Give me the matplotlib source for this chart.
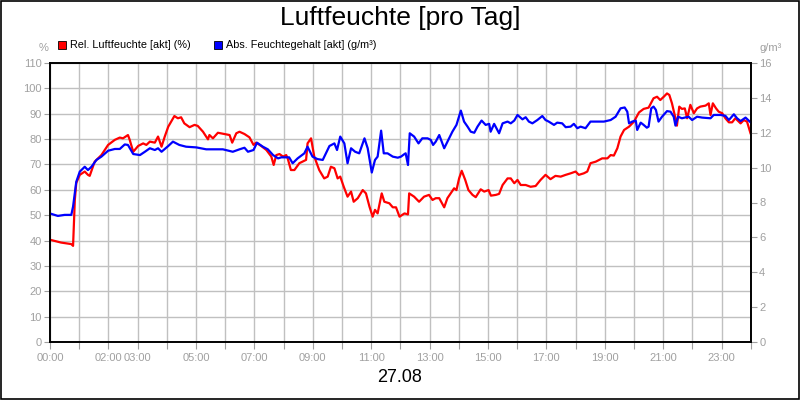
import matplotlib
matplotlib.use("Agg")
import matplotlib.pyplot as plt
from matplotlib.patches import Rectangle

plt.rcParams['font.family'] = ['Liberation Sans', 'DejaVu Sans']

# relative humidity (%), time in hours of the day
rel_hours = [0.04, 0.38, 0.73, 0.79, 0.85, 0.90, 1.02, 1.19, 1.30, 1.36, 1.53, 1.76, 1.99, 2.22,
             2.39, 2.50, 2.67, 2.73, 2.85, 3.02, 3.19, 3.30, 3.42, 3.59, 3.70, 3.82, 3.93, 4.05,
             4.15, 4.26, 4.38, 4.49, 4.60, 4.78, 4.95, 5.06, 5.24, 5.41, 5.46, 5.58, 5.75, 5.98,
             6.15, 6.24, 6.38, 6.49, 6.66, 6.83, 6.97, 7.06, 7.23, 7.41, 7.58, 7.66, 7.75, 7.86,
             7.98, 8.09, 8.14, 8.25, 8.37, 8.54, 8.65, 8.77, 8.82, 8.94, 9.05, 9.22, 9.39, 9.51,
             9.62, 9.74, 9.85, 9.94, 10.06, 10.19, 10.31, 10.40, 10.54, 10.71, 10.82, 10.94,
             11.05, 11.13, 11.22, 11.36, 11.45, 11.62, 11.74, 11.85, 11.97, 12.14, 12.26, 12.30,
             12.47, 12.64, 12.81, 12.98, 13.10, 13.21, 13.33, 13.50, 13.61, 13.72, 13.84, 13.92,
             14.01, 14.10, 14.22, 14.33, 14.47, 14.58, 14.75, 14.87, 15.02, 15.10, 15.27, 15.38,
             15.50, 15.67, 15.78, 15.90, 16.01, 16.12, 16.29, 16.46, 16.63, 16.80, 16.97, 17.14,
             17.31, 17.49, 17.66, 17.83, 18.00, 18.11, 18.28, 18.40, 18.51, 18.69, 18.91, 19.09,
             19.20, 19.31, 19.43, 19.54, 19.66, 19.83, 20.00, 20.17, 20.33, 20.50, 20.67, 20.79,
             20.90, 21.02, 21.13, 21.21, 21.30, 21.42, 21.47, 21.55, 21.64, 21.74, 21.82, 21.93,
             22.05, 22.16, 22.27, 22.45, 22.56, 22.62, 22.70, 22.81, 22.90, 23.02, 23.13, 23.25,
             23.36, 23.47, 23.65, 23.76, 23.87, 23.99]
rel_values = [40.2, 39.2, 38.6, 37.9, 56.0, 62.7, 65.9, 67.2, 65.9, 65.5, 71.1, 73.7, 77.7, 79.7,
              80.6, 80.3, 81.6, 79.7, 75.0, 77.3, 78.3, 77.7, 79.0, 78.6, 81.0, 77.0, 81.0, 84.9,
              86.9, 89.1, 88.2, 88.6, 86.2, 84.7, 85.6, 85.2, 82.9, 79.9, 81.6, 80.3, 82.5, 82.0,
              81.6, 78.6, 82.3, 82.9, 82.0, 80.7, 77.7, 78.6, 77.3, 75.7, 73.1, 69.8, 73.7, 74.1,
              73.1, 73.7, 72.4, 67.8, 67.8, 70.5, 71.1, 71.8, 78.3, 80.3, 73.1, 67.8, 64.5, 65.2,
              69.1, 68.5, 64.5, 65.2, 61.2, 57.3, 59.3, 55.3, 56.7, 59.9, 58.6, 53.4,
              49.4, 52.1, 50.7, 58.6, 55.3, 54.7, 53.1, 53.1, 49.4, 50.7, 50.3, 58.6,
              57.3, 55.3, 57.3, 58.0, 56.0, 56.7, 56.7, 53.1, 56.7, 58.6, 60.6, 59.9,
              64.5, 67.5, 63.9, 59.9, 58.0, 57.1, 60.2, 59.3, 59.9, 57.7, 58.0, 58.4,
              61.9, 64.5, 64.5, 62.6, 63.9, 61.9, 61.9, 61.2, 61.5, 63.9, 65.9, 64.2,
              65.5, 65.2, 65.9, 66.5, 67.2, 65.9, 66.5, 67.2, 70.5, 71.1, 72.4, 72.4,
              73.7, 73.5, 76.4, 81.0, 83.6, 84.9, 86.9, 90.5, 91.9, 92.4, 96.1, 96.7,
              95.4, 96.7, 98.0, 97.4, 94.1, 88.2, 85.3, 92.8, 91.9, 92.1, 88.2, 93.5,
              90.2, 92.1, 92.8, 93.2, 94.1, 89.5, 94.1, 92.1, 90.8, 90.2, 88.2, 86.6,
              86.6, 88.2, 86.2, 87.5, 86.9, 82.3]

# absolute moisture content (g/m3)
abs_hours = [0.04, 0.27, 0.50, 0.73, 0.79, 0.90, 1.02, 1.19, 1.30, 1.42, 1.59, 1.76, 1.99, 2.22,
             2.39, 2.56, 2.67, 2.85, 3.08, 3.25, 3.42, 3.59, 3.70, 3.82, 4.05, 4.21, 4.43, 4.66,
             5.01, 5.35, 5.58, 5.92, 6.26, 6.49, 6.66, 6.78, 6.97, 7.09, 7.29, 7.46, 7.64, 7.81,
             7.92, 8.09, 8.19, 8.31, 8.48, 8.71, 8.82, 8.99, 9.16, 9.34, 9.45, 9.57, 9.74, 9.83,
             9.94, 10.08, 10.19, 10.31, 10.45, 10.59, 10.77, 10.88, 11.02, 11.13, 11.22, 11.34,
             11.43, 11.56, 11.74, 11.91, 12.02, 12.14, 12.18, 12.26, 12.32, 12.47, 12.62, 12.75,
             12.93, 13.04, 13.12, 13.21, 13.33, 13.50, 13.67, 13.78, 13.92, 13.99, 14.07, 14.18,
             14.30, 14.41, 14.53, 14.64, 14.78, 14.92, 15.04, 15.09, 15.21, 15.38, 15.50, 15.67,
             15.78, 15.90, 16.01, 16.18, 16.29, 16.40, 16.52, 16.69, 16.86, 16.97, 17.08, 17.26,
             17.37, 17.54, 17.66, 17.83, 17.94, 18.06, 18.17, 18.34, 18.51, 18.74, 18.97, 19.20,
             19.37, 19.54, 19.68, 19.77, 19.83, 19.94, 20.06, 20.11, 20.23, 20.33, 20.44, 20.50,
             20.59, 20.67, 20.75, 20.84, 20.96, 21.13, 21.25, 21.36, 21.42, 21.51, 21.64, 21.87,
             21.99, 22.16, 22.33, 22.62, 22.73, 22.96, 23.13, 23.25, 23.42, 23.53, 23.65, 23.82,
             23.99]
abs_values = [7.35, 7.23, 7.29, 7.29, 7.77, 9.19, 9.77, 10.05, 9.86, 10.05, 10.44, 10.63, 10.97, 11.07,
              11.07, 11.33, 11.30, 10.78, 10.72, 10.91, 11.11, 11.01, 11.11, 10.91, 11.24, 11.49, 11.30, 11.20,
              11.16, 11.05, 11.05, 11.05, 10.91, 11.05, 11.14, 10.91, 11.01, 11.43, 11.20, 11.05, 10.72, 10.53,
              10.59, 10.59, 10.59, 10.25, 10.53, 10.82, 11.20, 10.63, 10.49, 10.44, 10.82, 11.24, 11.39, 11.01,
              11.78, 11.39, 10.25, 11.11, 10.91, 10.82, 11.68, 11.11, 9.72, 10.44, 10.63, 12.12,
              10.82, 10.82, 10.63, 10.57, 10.63, 10.78, 10.82, 10.15, 11.97, 11.78, 11.39, 11.68,
              11.68, 11.59, 11.30, 11.49, 11.87, 11.11, 11.68, 12.06, 12.45, 12.83, 13.27, 12.64,
              12.35, 12.06, 12.00, 12.35, 12.70, 12.45, 12.51, 12.06, 12.51, 11.97, 12.54, 12.64,
              12.54, 12.70, 13.02, 12.77, 12.89, 12.64, 12.54, 12.73, 12.96, 12.73, 12.64, 12.45,
              12.58, 12.54, 12.32, 12.35, 12.51, 12.26, 12.35, 12.26, 12.64, 12.64, 12.64, 12.73,
              12.92, 13.40, 13.45, 13.21, 12.54, 12.64, 12.70, 12.16, 12.58, 12.45, 12.29, 12.35,
              13.40, 13.50, 13.31, 12.64, 12.92, 13.24, 13.21, 12.92, 12.41, 12.92, 12.83, 12.92,
              12.73, 12.92, 12.87, 12.83, 13.02, 13.02, 12.97, 12.73, 13.06, 12.83, 12.67, 12.87,
              12.60]

xtick_pos = [0, 2, 3, 5, 7, 9, 11, 13, 15, 17, 19, 21, 23]
xtick_labels = ['00:00', '02:00', '03:00', '05:00', '07:00', '09:00', '11:00',
                '13:00', '15:00', '17:00', '19:00', '21:00', '23:00']

gray = '#a0a0a0'
grid_gray = '#c0c0c0'

fig = plt.figure(figsize=(8, 4), dpi=100)
fig.patches.append(Rectangle((0.0015, 0.003), 0.997, 0.994, transform=fig.transFigure,
                             fill=False, edgecolor='black', linewidth=1.2))

ax = fig.add_axes([0.0625, 0.145, 0.876, 0.6975])
ax2 = ax.twinx()

ax.plot(rel_hours, rel_values, color='#ff0000', linewidth=1.6)
ax2.plot(abs_hours, abs_values, color='#0000ff', linewidth=1.6)

ax.set_xlim(0, 24)
ax.set_ylim(0, 110)
ax2.set_ylim(0, 16)

# one tick per hour, labels only at some of them
hour_ticks = list(range(25))
hour_labels = [xtick_labels[xtick_pos.index(h)] if h in xtick_pos else '' for h in hour_ticks]
ax.set_xticks(hour_ticks)
ax.set_xticklabels(hour_labels)
ax.tick_params(axis='x', length=5, color=gray, labelcolor=gray, labelsize=8, pad=3)

ax.set_yticks(range(0, 111, 10))
ax.tick_params(axis='y', length=4, color=gray, labelcolor=gray, labelsize=8, pad=2)
ax2.set_yticks(range(0, 17, 2))
ax2.tick_params(axis='y', length=4, color=gray, labelcolor=gray, labelsize=8, pad=2)

ax.grid(True, color=grid_gray, linewidth=1)
ax.set_axisbelow(True)
for sp in list(ax.spines.values()) + list(ax2.spines.values()):
    sp.set_color('black')
    sp.set_linewidth(1.2)

fig.text(0.5, 0.955, 'Luftfeuchte [pro Tag]', ha='center', va='center', fontsize=19)
fig.text(0.5, 0.055, '27.08', ha='center', va='center', fontsize=13)
fig.text(0.054, 0.88, '%', ha='center', va='center', fontsize=8, color=gray)
fig.text(0.963, 0.88, 'g/m³', ha='center', va='center', fontsize=8, color=gray)

# legend
fig.patches.append(Rectangle((0.0725, 0.878), 0.01, 0.02, transform=fig.transFigure,
                             facecolor='#ff0000', edgecolor='black', linewidth=0.6))
fig.text(0.087, 0.888, 'Rel. Luftfeuchte [akt] (%)', ha='left', va='center', fontsize=7.8)
fig.patches.append(Rectangle((0.2675, 0.878), 0.01, 0.02, transform=fig.transFigure,
                             facecolor='#0000ff', edgecolor='black', linewidth=0.6))
fig.text(0.282, 0.888, 'Abs. Feuchtegehalt [akt] (g/m³)', ha='left', va='center', fontsize=7.8)

fig.savefig('out.png', dpi=100)
